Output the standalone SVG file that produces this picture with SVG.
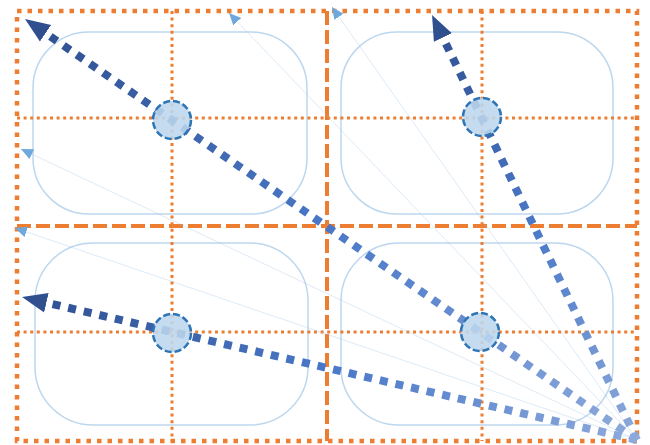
<svg xmlns="http://www.w3.org/2000/svg" width="650" height="445" viewBox="0 0 650 445">
<style>
.panel{fill:none;stroke:#bdd7ee;stroke-width:1.5}
.outer{fill:none;stroke:#ed7d31;stroke-width:4.5;stroke-dasharray:4.5 6}
.mid{fill:none;stroke:#ed7d31;stroke-width:4;stroke-dasharray:14 5}
.thin{fill:none;stroke:#ed7d31;stroke-width:3;stroke-dasharray:3 3.6}
.hub{fill:#bdd7ee;fill-opacity:0.88;stroke:#2e75b6;stroke-width:2.5;stroke-dasharray:7 3}
.big{fill:none;stroke-width:8;stroke-dasharray:8 8}
.ray{fill:none;stroke:#9dc3e6;stroke-opacity:0.35;stroke-width:1}
</style>
<defs>
<marker id="bigHead" markerUnits="userSpaceOnUse" markerWidth="26" markerHeight="22" viewBox="0 0 26 22" refX="0" refY="11" orient="auto">
<path d="M0,1 L25,11 L0,21 z" fill="#2f4f8f"/>
</marker>
<marker id="smallHead" markerUnits="userSpaceOnUse" markerWidth="13" markerHeight="12" viewBox="0 0 13 12" refX="12" refY="6" orient="auto">
<path d="M0,0.5 L12,6 L0,11.5 z" fill="#6fa8dc"/>
</marker>
<linearGradient id="g1" gradientUnits="userSpaceOnUse" x1="637" y1="440" x2="25" y2="19">
<stop offset="0" stop-color="#8eaadb"/><stop offset="0.5" stop-color="#4a78c8"/><stop offset="1" stop-color="#2f4f8f"/>
</linearGradient>
<linearGradient id="g2" gradientUnits="userSpaceOnUse" x1="637" y1="440" x2="432" y2="15">
<stop offset="0" stop-color="#8eaadb"/><stop offset="0.5" stop-color="#4a78c8"/><stop offset="1" stop-color="#2f4f8f"/>
</linearGradient>
<linearGradient id="g3" gradientUnits="userSpaceOnUse" x1="637" y1="440" x2="22" y2="297">
<stop offset="0" stop-color="#8eaadb"/><stop offset="0.5" stop-color="#4a78c8"/><stop offset="1" stop-color="#2f4f8f"/>
</linearGradient>
</defs>
<rect width="650" height="445" fill="#ffffff"/>
<g id="panels">
<rect id="panel-tl" class="panel" x="33" y="32" width="274" height="182" rx="56" ry="56"/>
<rect id="panel-tr" class="panel" x="341" y="32" width="272" height="182" rx="56" ry="56"/>
<rect id="panel-bl" class="panel" x="35" y="243" width="273" height="182" rx="58" ry="58"/>
<rect id="panel-br" class="panel" x="341" y="243" width="272" height="182" rx="58" ry="58"/>
</g>
<g id="grid">
<line class="thin" x1="172" y1="11" x2="172" y2="441"/>
<line class="thin" x1="482" y1="11" x2="482" y2="441"/>
<line class="thin" x1="17" y1="118" x2="637" y2="118"/>
<line class="thin" x1="17" y1="332" x2="637" y2="332"/>
<line class="mid" x1="327" y1="11" x2="327" y2="441"/>
<line class="mid" x1="17" y1="226" x2="637" y2="226"/>
<rect class="outer" x="17" y="11" width="620" height="430"/>
</g>
<g id="connectors">
<line class="ray" x1="637" y1="440" x2="229" y2="13" marker-end="url(#smallHead)"/>
<line class="ray" x1="637" y1="440" x2="332" y2="7" marker-end="url(#smallHead)"/>
<line class="ray" x1="637" y1="440" x2="21" y2="149" marker-end="url(#smallHead)"/>
<line class="ray" x1="637" y1="440" x2="15" y2="228" marker-end="url(#smallHead)"/>
<line class="big" stroke="url(#g1)" x1="637" y1="440" x2="45.6" y2="33.2" marker-end="url(#bigHead)"/>
<line class="big" stroke="url(#g2)" x1="637" y1="440" x2="442.9" y2="37.5" marker-end="url(#bigHead)"/>
<line class="big" stroke="url(#g3)" x1="637" y1="440" x2="46.4" y2="302.7" marker-end="url(#bigHead)"/>
</g>
<g id="hub-tl"><circle class="hub" cx="172" cy="120" r="19"/></g>
<g id="hub-tr"><circle class="hub" cx="482" cy="117" r="19"/></g>
<g id="hub-bl"><circle class="hub" cx="172" cy="333" r="19"/></g>
<g id="hub-br"><circle class="hub" cx="480" cy="332" r="19"/></g>
</svg>
